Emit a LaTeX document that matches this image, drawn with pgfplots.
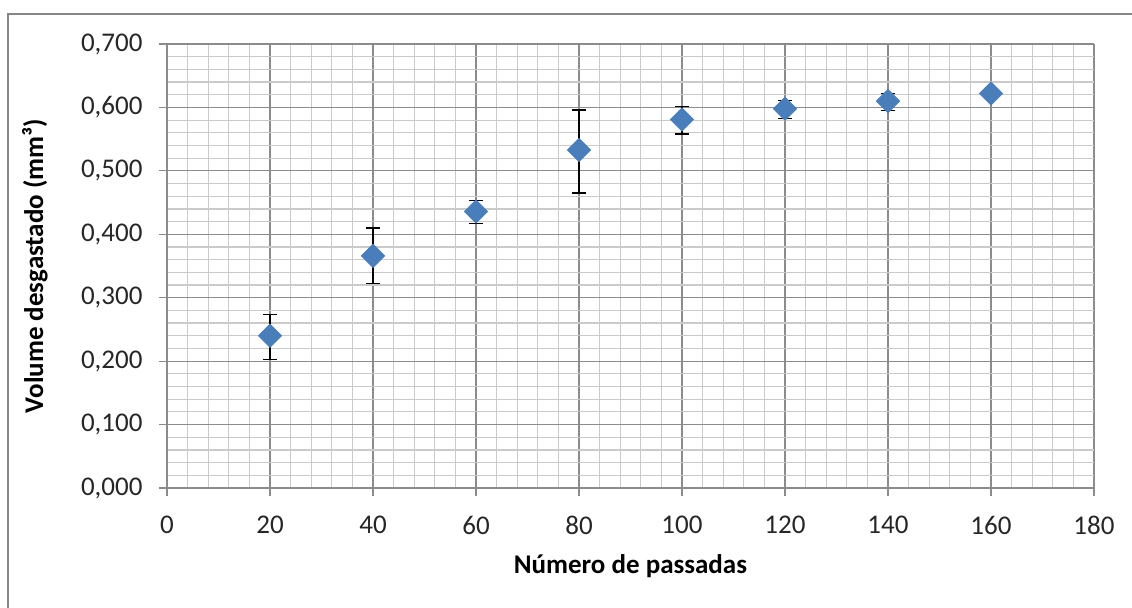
\documentclass[border=0pt]{standalone}
\usepackage{fontspec}
\setmainfont{Carlito}
\usepackage{pgfplots}
\pgfplotsset{compat=1.18}
\usepackage{pgfplotstable}
\definecolor{majgrid}{HTML}{8C8C8C}
\definecolor{mingrid}{HTML}{CACACA}
\definecolor{mkblue}{HTML}{4A7EBB}
\definecolor{frame}{HTML}{878787}
\pgfplotstableread{
x y ep em
20 0.240 0.034 0.038
40 0.366 0.044 0.044
60 0.436 0.017 0.019
80 0.533 0.063 0.068
100 0.581 0.021 0.023
120 0.598 0.013 0.016
140 0.610 0.012 0.015
160 0.622 0 0
}\data
\begin{document}
\begin{tikzpicture}
\path[use as bounding box] (-83.5pt,-59.5pt) rectangle (482.5pt,244pt);
\draw[frame, line width=1.2pt] (-79.5pt,-62pt) -- (-79.5pt,237pt) -- (490pt,237pt);
\begin{axis}[
  at={(0,0)}, anchor=south west,
  scale only axis, width=463.5pt, height=222pt,
  xmin=0, xmax=180, ymin=0, ymax=0.7,
  xtick={0,20,...,180}, ytick={0,0.1,...,0.7},
  minor x tick num=4, minor y tick num=4,
  grid=both,
  major grid style={majgrid, line width=0.6pt},
  minor grid style={mingrid, line width=0.6pt},
  axis line style={majgrid, line width=0.6pt},
  axis lines*=left,
  tick align=outside, major tick length=4.2pt, minor tick length=0pt,
  tick style={majgrid, line width=0.6pt},
  ticklabel style={font=\fontsize{13.5}{16}\selectfont, text=black!85},
  /pgf/number format/assume math mode=true,
  yticklabel style={xshift=-4.5pt, /pgf/number format/.cd, fixed, fixed zerofill, precision=3, use comma},
  xticklabel style={yshift=-6.5pt, /pgf/number format/.cd, fixed, precision=0},
  xlabel={\textbf{Número de passadas}},
  ylabel={\textbf{Volume desgastado (mm³)}},
  label style={font=\fontsize{13.5}{16}\selectfont, text=black},
  xlabel style={at={(axis description cs:0.5,-0.176)}, anchor=center},
  ylabel style={at={(axis description cs:-0.1424,0.5)}, anchor=center},
  clip=false,
]
\addplot[only marks, mark=square*, mark size=4.1pt,
  mark options={rotate=45, fill=mkblue, draw=mkblue},
  error bars/.cd, y dir=both, y explicit,
  error bar style={black, line width=0.6pt},
  error mark options={black, mark size=3.3pt, line width=0.6pt, rotate=90}]
  table[x=x, y=y, y error plus=ep, y error minus=em] {\data};
\end{axis}
\end{tikzpicture}
\end{document}
